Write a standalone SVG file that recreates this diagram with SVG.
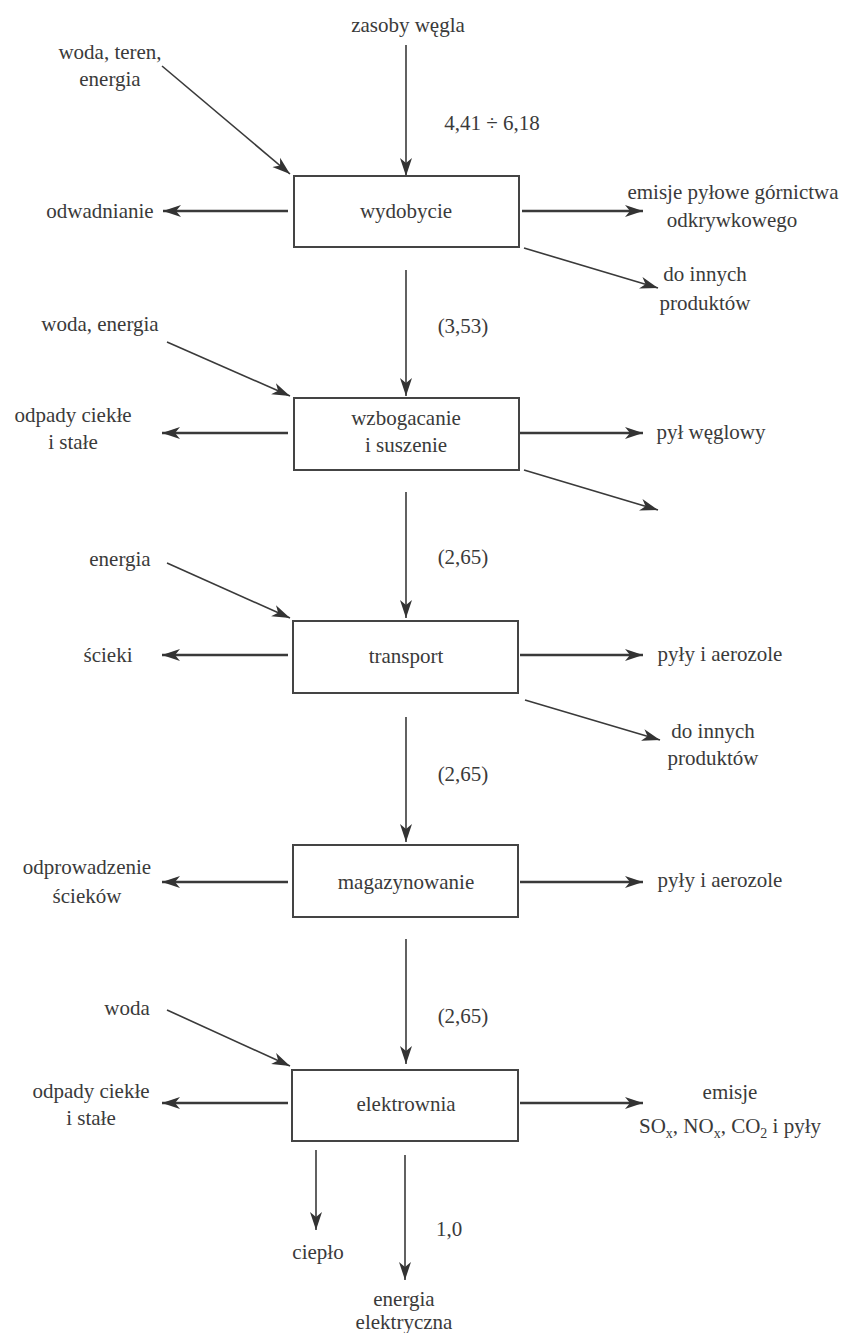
<svg xmlns="http://www.w3.org/2000/svg" width="844" height="1333" viewBox="0 0 844 1333">
<defs>
<marker id="ah" markerUnits="userSpaceOnUse" markerWidth="20" markerHeight="14" refX="18" refY="7" orient="auto">
<path d="M0,1 L18,7 L0,13 L5,7 Z" fill="#333"/>
</marker>
<style>
text{font-size:21px;fill:#3a3a3a;text-anchor:middle}
.box{fill:#fff;stroke:#444;stroke-width:2}
.c line{stroke:#3a3a3a;stroke-width:1.6;marker-end:url(#ah)}
.c line.h{stroke-width:2.4}
.sub{font-size:14px}
</style>
</defs>
<rect width="844" height="1333" fill="#fff"/>
<g class="c" id="connectors">
<line x1="406" y1="45" x2="406" y2="176"/>
<line x1="162" y1="66" x2="290" y2="174"/>
<line class="h" x1="288" y1="211" x2="163" y2="211"/>
<line class="h" x1="522" y1="211" x2="643" y2="211"/>
<line x1="524" y1="248" x2="658" y2="288"/>
<line x1="406" y1="270" x2="406" y2="396"/>
<line x1="167" y1="342" x2="290" y2="396"/>
<line class="h" x1="288" y1="433" x2="162" y2="433"/>
<line class="h" x1="520" y1="433" x2="643" y2="433"/>
<line x1="524" y1="470" x2="658" y2="510"/>
<line x1="406" y1="492" x2="406" y2="618"/>
<line x1="167" y1="563" x2="290" y2="618"/>
<line class="h" x1="288" y1="655" x2="162" y2="655"/>
<line class="h" x1="520" y1="655" x2="643" y2="655"/>
<line x1="525" y1="700" x2="660" y2="740"/>
<line x1="406" y1="717" x2="406" y2="842"/>
<line class="h" x1="288" y1="882" x2="162" y2="882"/>
<line class="h" x1="520" y1="882" x2="643" y2="882"/>
<line x1="406" y1="939" x2="406" y2="1064"/>
<line x1="167" y1="1010" x2="290" y2="1066"/>
<line class="h" x1="288" y1="1103" x2="162" y2="1103"/>
<line class="h" x1="520" y1="1103" x2="643" y2="1103"/>
<line x1="316" y1="1150" x2="316" y2="1230"/>
<line x1="405" y1="1155" x2="405" y2="1280"/>
</g>
<g font-family="'Liberation Serif', 'DejaVu Serif', serif">
<g id="n-wydobycie"><rect class="box" x="294" y="176" width="225" height="71"/><text x="406" y="218">wydobycie</text></g>
<g id="n-wzbogacanie"><rect class="box" x="294" y="398" width="225" height="72"/><text x="406" y="425">wzbogacanie</text><text x="406" y="452">i suszenie</text></g>
<g id="n-transport"><rect class="box" x="293" y="621" width="225" height="72"/><text x="406" y="663">transport</text></g>
<g id="n-magazynowanie"><rect class="box" x="293" y="845" width="225" height="72"/><text x="406" y="889">magazynowanie</text></g>
<g id="n-elektrownia"><rect class="box" x="292" y="1070" width="226" height="71"/><text x="406" y="1111">elektrownia</text></g>
<g id="labels">
<text x="408" y="32">zasoby węgla</text>
<text x="110" y="59">woda, teren,</text>
<text x="110" y="86">energia</text>
<text x="492" y="130">4,41 ÷ 6,18</text>
<text x="100" y="218">odwadnianie</text>
<text x="733" y="199">emisje pyłowe górnictwa</text>
<text x="732" y="227">odkrywkowego</text>
<text x="705" y="281">do innych</text>
<text x="705" y="310">produktów</text>
<text x="100" y="331">woda, energia</text>
<text x="463" y="333">(3,53)</text>
<text x="73" y="422">odpady ciekłe</text>
<text x="73" y="449">i stałe</text>
<text x="711" y="439">pył węglowy</text>
<text x="120" y="566">energia</text>
<text x="463" y="564">(2,65)</text>
<text x="108" y="662">ścieki</text>
<text x="720" y="661">pyły i aerozole</text>
<text x="713" y="738">do innych</text>
<text x="713" y="765">produktów</text>
<text x="463" y="781">(2,65)</text>
<text x="87" y="874">odprowadzenie</text>
<text x="87" y="903">ścieków</text>
<text x="720" y="887">pyły i aerozole</text>
<text x="127" y="1015">woda</text>
<text x="463" y="1023">(2,65)</text>
<text x="91" y="1098">odpady ciekłe</text>
<text x="91" y="1125">i stałe</text>
<text x="730" y="1099">emisje</text>
<text x="730" y="1133">SO<tspan class="sub" dy="5">x</tspan><tspan dy="-5">, NO</tspan><tspan class="sub" dy="5">x</tspan><tspan dy="-5">, CO</tspan><tspan class="sub" dy="5">2</tspan><tspan dy="-5"> i pyły</tspan></text>
<text x="449" y="1236">1,0</text>
<text x="318" y="1259">ciepło</text>
<text x="404" y="1306">energia</text>
<text x="404" y="1329">elektryczna</text>
</g>
</g>
</svg>
